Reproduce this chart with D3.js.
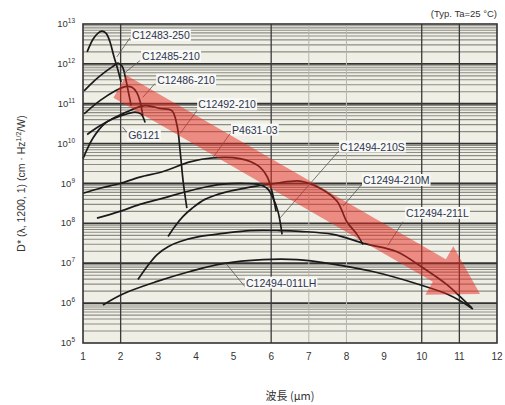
<!DOCTYPE html>
<html>
<head>
<meta charset="utf-8">
<script src="https://cdn.jsdelivr.net/npm/d3@7/dist/d3.min.js"></script>
<style>
  body { margin: 0; background: #fff; }
  svg { display: block; }
  text { font-family: "Liberation Sans", Arial, sans-serif; }
</style>
</head>
<body>
<div id="chart"></div>
<script>
// axis values
const xTicks = [1, 2, 3, 4, 5, 6, 7, 8, 9, 10, 11, 12];
const yExponents = [5, 6, 7, 8, 9, 10, 11, 12, 13];
const vGridDark = [2, 6, 10, 11];
const vGridLight = [7, 8];

// spectral response curves: [wavelength um, D*]
const c12483_250 = [[1.11, 2.0e12], [1.27, 4.2e12], [1.40, 5.9e12], [1.50, 6.6e12], [1.61, 5.9e12],
  [1.72, 3.5e12], [1.82, 1.55e12], [1.93, 6.9e11], [2.01, 3.5e11]];
const c12485_210 = [[1.03, 2.1e11], [1.32, 3.9e11], [1.58, 6.2e11], [1.80, 8.7e11], [1.93, 1.05e12],
  [2.04, 8.7e11], [2.12, 4.9e11], [2.20, 2.1e11], [2.28, 9.0e10]];
const c12486_210 = [[1.03, 5.6e10], [1.45, 1.2e11], [1.85, 2.1e11], [2.12, 2.7e11], [2.30, 2.6e11],
  [2.43, 1.9e11], [2.51, 1.2e11], [2.59, 5.0e10]];
const g6121 = [[1.11, 1.7e10], [1.45, 2.8e10], [1.80, 4.2e10], [2.12, 5.4e10], [2.38, 6.2e10],
  [2.54, 5.6e10], [2.65, 3.4e10]];
const c12492_210 = [[1.00, 4.2e9], [1.27, 1.4e10], [1.58, 3.2e10], [2.12, 6.0e10], [2.65, 9.0e10],
  [3.05, 7.6e10], [3.36, 6.7e10], [3.50, 2.8e10], [3.58, 6.6e9], [3.66, 1.15e9], [3.76, 2.4e8]];
const p4631_03 = [[1.00, 5.7e8], [1.45, 7.6e8], [1.98, 1.0e9], [2.51, 1.45e9], [3.13, 2.0e9],
  [3.84, 3.5e9], [4.45, 4.4e9], [5.17, 4.2e9], [5.65, 2.8e9], [5.89, 1.5e9], [6.02, 6.4e8], [6.13, 2.0e8]];
const c12494_210S = [[1.37, 1.35e8], [1.98, 2.0e8], [2.51, 3.0e8], [3.13, 4.3e8], [4.11, 7.6e8],
  [4.72, 9.6e8], [5.30, 1.0e9], [5.62, 9.6e8], [5.89, 7.6e8], [6.05, 4.3e8], [6.18, 2.0e8], [6.29, 5.3e7]];
const c12494_210M = [[3.26, 4.7e7], [3.44, 8.4e7], [3.66, 1.5e8], [3.90, 2.4e8], [4.24, 4.0e8],
  [4.77, 6.0e8], [5.44, 8.1e8], [6.10, 1.0e9], [6.77, 1.15e9], [7.30, 7.6e8], [7.75, 3.6e8],
  [8.01, 1.1e8], [8.28, 5.3e7], [8.44, 2.95e7]];
const c12494_211L = [[2.46, 3.9e6], [2.70, 8.2e6], [2.97, 1.65e7], [3.26, 2.6e7], [3.58, 3.5e7],
  [4.11, 4.7e7], [4.72, 5.6e7], [5.44, 6.6e7], [6.23, 6.6e7], [6.77, 6.3e7], [7.64, 5.3e7],
  [8.49, 3.1e7], [9.34, 1.95e7], [10.03, 7.7e6], [10.67, 2.9e6], [11.02, 1.45e6], [11.33, 7.6e5]];
const c12494_011LH = [[1.53, 9.0e5], [2.06, 1.7e6], [2.97, 3.5e6], [3.84, 6.2e6], [4.72, 9.8e6],
  [5.78, 1.23e7], [6.69, 1.23e7], [7.56, 9.8e6], [8.70, 6.2e6], [9.95, 2.9e6], [10.67, 1.7e6],
  [11.02, 1.15e6], [11.36, 7.1e5]];

const curves = [c12483_250, c12485_210, c12486_210, g6121, c12492_210, p4631_03,
  c12494_210S, c12494_210M, c12494_211L, c12494_011LH];

// labels: text, anchor point [um, D*], leader from/to
const labelNames = ['C12483-250', 'C12485-210', 'C12486-210', 'C12492-210', 'G6121',
  'P4631-03', 'C12494-210S', 'C12494-210M', 'C12494-211L', 'C12494-011LH'];
const labelPos = [[2.30, 5.2e12], [2.57, 1.55e12], [2.97, 3.9e11], [4.06, 9.5e10], [2.20, 1.6e10],
  [4.96, 2.2e10], [7.83, 8.3e9], [8.44, 1.2e9], [9.58, 1.8e8], [5.33, 3.2e6]];
const leaders = [
  [[2.25, 4.5e12], [1.90, 1.5e12]],
  [[2.51, 1.2e12], [2.09, 5.8e11]],
  [[2.91, 3.2e11], [2.59, 1.45e11]],
  [[4.03, 6.8e10], [3.58, 1.8e10]],
  [[2.17, 1.9e10], [2.05, 2.6e10]],
  [[4.91, 1.8e10], [4.45, 4.4e9]],
  [[7.80, 6.6e9], [6.23, 1.35e8]],
  [[8.41, 9.6e8], [7.91, 2.7e8]],
  [[9.50, 1.1e8], [9.10, 2.8e7]],
  [[5.30, 2.6e6], [4.80, 9.8e6]]
];

// trend arrow: start and tip [um, D*]
const arrowStart = [1.98, 2.7e11];
const arrowTip = [11.55, 1.7e6];

const W = 505, H = 405;
const margin = { left: 83, right: 8, top: 24, bottom: 62 };
const width = W - margin.left - margin.right;
const height = H - margin.top - margin.bottom;

const svg = d3.select('#chart').append('svg')
  .attr('width', W).attr('height', H);

const g = svg.append('g').attr('transform', `translate(${margin.left},${margin.top})`);

const x = d3.scaleLinear().domain([1, 12]).range([0, width]);
const y = d3.scaleLog().domain([1e5, 1e13]).range([height, 0]);

// plot background
g.append('rect').attr('width', width).attr('height', height).attr('fill', '#f0efe6');

// horizontal grid
const minorVals = [];
yExponents.slice(0, -1).forEach(e => {
  for (let m = 2; m <= 9; m++) minorVals.push(m * Math.pow(10, e));
});
g.append('g').selectAll('line').data(minorVals).join('line')
  .attr('x1', 0).attr('x2', width)
  .attr('y1', d => y(d)).attr('y2', d => y(d))
  .attr('stroke', '#8c8c85').attr('stroke-width', 1.1);
g.append('g').selectAll('line').data(yExponents.slice(1, -1)).join('line')
  .attr('x1', 0).attr('x2', width)
  .attr('y1', d => y(Math.pow(10, d))).attr('y2', d => y(Math.pow(10, d)))
  .attr('stroke', '#333').attr('stroke-width', 1.8);

// vertical grid
g.append('g').selectAll('line').data(vGridLight).join('line')
  .attr('x1', d => x(d)).attr('x2', d => x(d)).attr('y1', 0).attr('y2', height)
  .attr('stroke', '#b5b5ad').attr('stroke-width', 1);
g.append('g').selectAll('line').data(vGridDark).join('line')
  .attr('x1', d => x(d)).attr('x2', d => x(d)).attr('y1', 0).attr('y2', height)
  .attr('stroke', '#3a3a3a').attr('stroke-width', 1.3);

// curves
const line = d3.line().x(d => x(d[0])).y(d => y(d[1])).curve(d3.curveCatmullRom.alpha(0.5));
g.append('g').selectAll('path').data(curves).join('path')
  .attr('d', line)
  .attr('fill', 'none').attr('stroke', '#1a1a1a').attr('stroke-width', 1.7);

// leaders
g.append('g').selectAll('line').data(leaders).join('line')
  .attr('x1', d => x(d[0][0])).attr('y1', d => y(d[0][1]))
  .attr('x2', d => x(d[1][0])).attr('y2', d => y(d[1][1]))
  .attr('stroke', '#555').attr('stroke-width', 0.8);

// labels
const labels = g.append('g').selectAll('g').data(labelNames).join('g')
  .attr('transform', (d, i) => `translate(${x(labelPos[i][0])},${y(labelPos[i][1])})`);
labels.append('text')
  .attr('dy', '0.35em')
  .attr('font-size', 10.5)
  .attr('fill', '#2d3550')
  .text(d => d);
labels.each(function () {
  const t = d3.select(this).select('text');
  const b = t.node().getBBox();
  d3.select(this).insert('rect', 'text')
    .attr('x', b.x - 1).attr('y', b.y).attr('width', b.width + 2).attr('height', b.height)
    .attr('fill', '#f8f8f4');
});

// trend arrow
const p0 = [x(arrowStart[0]), y(arrowStart[1])];
const p1 = [x(arrowTip[0]), y(arrowTip[1])];
const dx = p1[0] - p0[0], dy = p1[1] - p0[1];
const len = Math.hypot(dx, dy);
const ux = dx / len, uy = dy / len, nx = -uy, ny = ux;
const bw = 13, hw = 28, hl = 47;
const hb = [p1[0] - ux * hl, p1[1] - uy * hl];
const arrowPts = [
  [p0[0] + nx * bw, p0[1] + ny * bw],
  [hb[0] + nx * bw, hb[1] + ny * bw],
  [hb[0] + nx * hw, hb[1] + ny * hw],
  p1,
  [hb[0] - nx * hw, hb[1] - ny * hw],
  [hb[0] - nx * bw, hb[1] - ny * bw],
  [p0[0] - nx * bw, p0[1] - ny * bw]
];
g.append('polygon')
  .attr('points', arrowPts.map(p => p.join(',')).join(' '))
  .attr('fill', 'rgb(232,40,30)').attr('fill-opacity', 0.5);

// frame
g.append('rect').attr('width', width).attr('height', height)
  .attr('fill', 'none').attr('stroke', '#333').attr('stroke-width', 1.6);

// x tick labels
g.append('g').selectAll('text').data(xTicks).join('text')
  .attr('x', d => x(d)).attr('y', height + 17)
  .attr('text-anchor', 'middle').attr('font-size', 10).attr('fill', '#333')
  .text(d => d);

// y tick labels
const yl = g.append('g').selectAll('text').data(yExponents).join('text')
  .attr('x', -8).attr('y', d => y(Math.pow(10, d)) + 3)
  .attr('text-anchor', 'end').attr('font-size', 9.5).attr('fill', '#333');
yl.append('tspan').text('10');
yl.append('tspan').attr('dy', -4).attr('font-size', 6.5).text(d => d);

// axis titles
svg.append('text')
  .attr('transform', `translate(25,${margin.top + height / 2}) rotate(-90)`)
  .attr('text-anchor', 'middle').attr('font-size', 10.5).attr('fill', '#333')
  .html('D* (λ, 1200, 1) (cm · Hz<tspan dy="-4" font-size="7">1/2</tspan><tspan dy="4">/W)</tspan>');

svg.append('text')
  .attr('x', margin.left + width / 2).attr('y', 400)
  .attr('text-anchor', 'middle').attr('font-size', 11).attr('fill', '#333')
  .style('font-family', '"Noto Sans CJK JP", sans-serif')
  .text('波長 (μm)');

svg.append('text')
  .attr('x', W - margin.right).attr('y', 17)
  .attr('text-anchor', 'end').attr('font-size', 9.5).attr('fill', '#333')
  .text('(Typ. Ta=25 °C)');
</script>
</body>
</html>
